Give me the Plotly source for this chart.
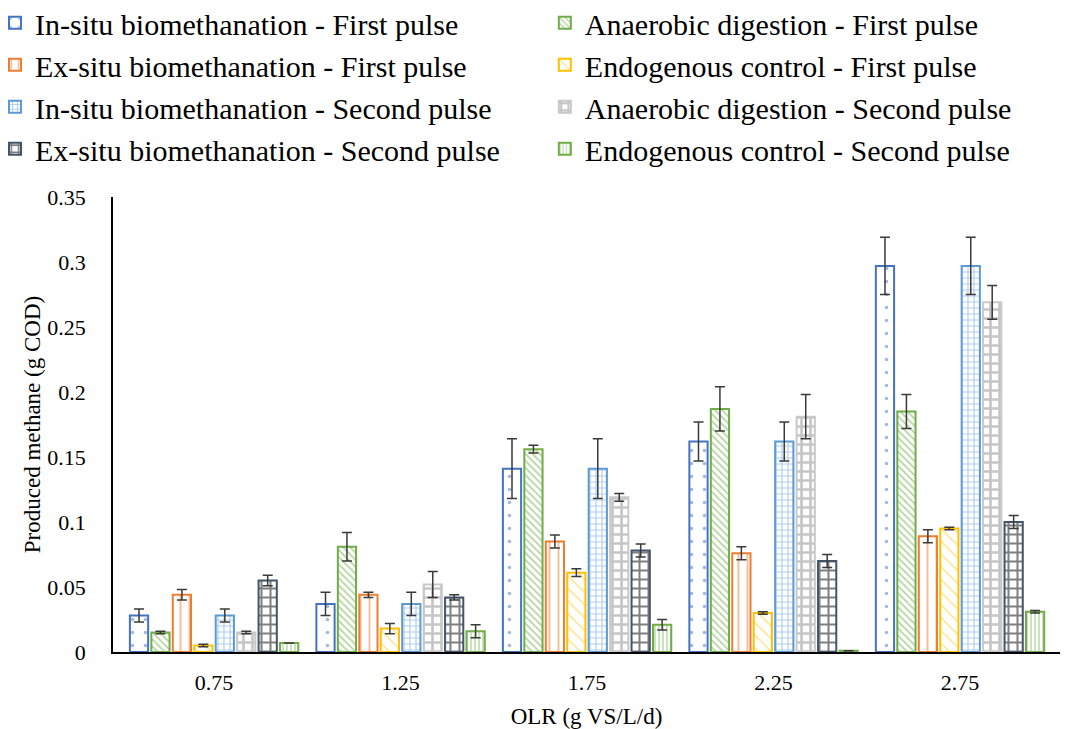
import plotly.graph_objects as go

categories = ["0.75", "1.25", "1.75", "2.25", "2.75"]

series_names = [
    "In-situ biomethanation - First pulse",
    "Anaerobic digestion - First pulse",
    "Ex-situ biomethanation - First pulse",
    "Endogenous control - First pulse",
    "In-situ biomethanation - Second pulse",
    "Anaerobic digestion - Second pulse",
    "Ex-situ biomethanation - Second pulse",
    "Endogenous control - Second pulse",
]

insitu_fp = [0.028, 0.037, 0.141, 0.162, 0.297]
ad_fp = [0.015, 0.081, 0.156, 0.187, 0.185]
exsitu_fp = [0.044, 0.044, 0.085, 0.076, 0.089]
endo_fp = [0.005, 0.018, 0.061, 0.030, 0.095]
insitu_sp = [0.028, 0.037, 0.141, 0.162, 0.297]
ad_sp = [0.015, 0.052, 0.119, 0.181, 0.269]
exsitu_sp = [0.055, 0.042, 0.078, 0.070, 0.100]
endo_sp = [0.007, 0.016, 0.021, 0.001, 0.031]

insitu_fp_err = [0.005, 0.009, 0.023, 0.015, 0.022]
ad_fp_err = [0.001, 0.011, 0.003, 0.017, 0.013]
exsitu_fp_err = [0.004, 0.002, 0.005, 0.005, 0.005]
endo_fp_err = [0.001, 0.004, 0.003, 0.001, 0.001]
insitu_sp_err = [0.005, 0.009, 0.023, 0.015, 0.022]
ad_sp_err = [0.001, 0.010, 0.003, 0.017, 0.013]
exsitu_sp_err = [0.004, 0.002, 0.005, 0.005, 0.005]
endo_sp_err = [0.000, 0.005, 0.004, 0.000, 0.001]

values = [insitu_fp, ad_fp, exsitu_fp, endo_fp, insitu_sp, ad_sp, exsitu_sp, endo_sp]
errors = [insitu_fp_err, ad_fp_err, exsitu_fp_err, endo_fp_err,
          insitu_sp_err, ad_sp_err, exsitu_sp_err, endo_sp_err]

# left legend column: In-situ/Ex-situ ; right column: AD/Endogenous
legend_ids = ["legend", "legend2", "legend", "legend2",
              "legend", "legend2", "legend", "legend2"]

styles = [
    dict(line="#4472C4", fg="#4472C4", shape=".", size=13, sol=0.06),
    dict(line="#70AD47", fg="#70AD47", shape="\\", size=5, sol=0.35),
    dict(line="#ED7D31", fg="#ED7D31", shape="|", size=9, sol=0.22),
    dict(line="#FFC000", fg="#FFC000", shape="\\", size=9, sol=0.15),
    dict(line="#5B9BD5", fg="#5B9BD5", shape="+", size=6, sol=0.35),
    dict(line="#C9C9C9", fg="#8C8C8C", shape="+", size=9, sol=0.5),
    dict(line="#44546A", fg="#000000", shape="+", size=9, sol=0.4),
    dict(line="#70AD47", fg="#70AD47", shape="|", size=4, sol=0.35),
]

SERIF = "Liberation Serif"

fig = go.Figure()
for name, vals, errs, st, lg in zip(series_names, values, errors, styles, legend_ids):
    fig.add_trace(go.Bar(
        name=name,
        x=categories,
        y=vals,
        legend=lg,
        error_y=dict(type="data", array=errs, visible=True,
                     color="#3a3a3a", thickness=1.5, width=5),
        marker=dict(
            color="white",
            line=dict(color=st["line"], width=2),
            pattern=dict(shape=st["shape"], fgcolor=st["fg"], bgcolor="white",
                         size=st["size"], solidity=st["sol"], fillmode="overlay"),
        ),
    ))

legend_common = dict(
    orientation="v",
    yanchor="top",
    xanchor="left",
    font=dict(size=30, family=SERIF, color="black"),
    traceorder="normal",
    bgcolor="rgba(0,0,0,0)",
)

fig.update_layout(
    width=1071,
    height=729,
    barmode="group",
    bargap=0.08,
    bargroupgap=0.15,
    paper_bgcolor="white",
    plot_bgcolor="white",
    margin=dict(l=105, r=19, t=189, b=85, autoexpand=False),
    font=dict(family=SERIF, color="black"),
    legend=dict(x=-0.1246, y=1.44, **legend_common),
    legend2=dict(x=0.456, y=1.44, **legend_common),
    xaxis=dict(
        type="category",
        range=[-0.542, 4.536],
        showline=True, linecolor="black", linewidth=1.5,
        ticks="",
        ticklabelstandoff=10,
        tickfont=dict(size=22),
        title=dict(text="OLR (g VS/L/d)", font=dict(size=23), standoff=14),
        showgrid=False,
    ),
    yaxis=dict(
        range=[0, 0.35],
        dtick=0.05,
        showline=True, linecolor="black", linewidth=1.5,
        ticks="",
        ticklabelstandoff=21,
        tickfont=dict(size=22),
        title=dict(text="Produced methane (g COD)", font=dict(size=23), standoff=0),
        showgrid=False,
        zeroline=False,
    ),
)

fig.write_html("out.html")
